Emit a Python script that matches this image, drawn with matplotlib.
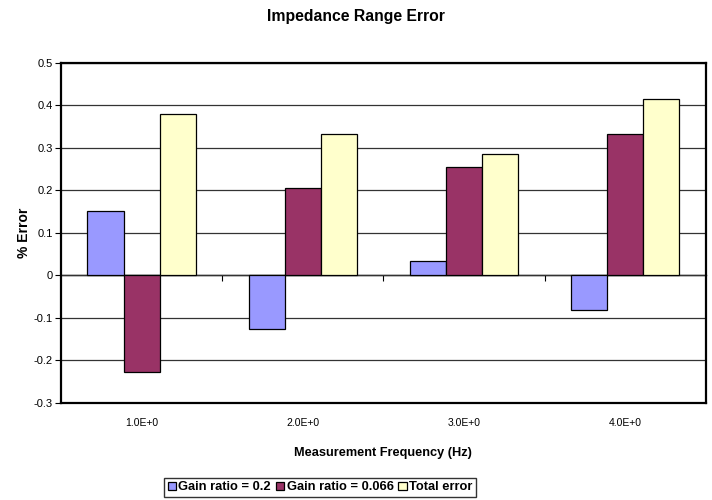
import matplotlib
matplotlib.use("Agg")
import matplotlib.pyplot as plt
import numpy as np

plt.rcParams['font.family'] = ['Liberation Sans', 'DejaVu Sans']

categories = ["1.0E+0", "2.0E+0", "3.0E+0", "4.0E+0"]
series_names = ["Gain ratio = 0.2", "Gain ratio = 0.066", "Total error"]
gain_02 = [0.152, -0.127, 0.033, -0.082]
gain_0066 = [-0.228, 0.206, 0.254, 0.332]
total_error = [0.380, 0.333, 0.285, 0.414]
colors = ["#9999FF", "#993366", "#FFFFCC"]
yticks = [-0.3, -0.2, -0.1, 0, 0.1, 0.2, 0.3, 0.4, 0.5]
ytick_labels = ["-0.3", "-0.2", "-0.1", "0", "0.1", "0.2", "0.3", "0.4", "0.5"]

fig = plt.figure(figsize=(7.12, 5.0), dpi=100)
ax = fig.add_axes([61/712, 1-402.7/500, (705.7-61)/712, (402.7-62.7)/500])

x = np.arange(len(categories))
w = 0.224
for i, (vals, c, name) in enumerate(zip([gain_02, gain_0066, total_error], colors, series_names)):
    ax.bar(x + (i - 1) * w, vals, width=w, color=c, edgecolor="black", linewidth=0.9, label=name, zorder=3)

ax.set_xlim(-0.5, len(categories) - 0.5)
ax.set_ylim(-0.3, 0.5)
ax.set_yticks(yticks)
ax.set_yticklabels(ytick_labels, fontsize=8)
ax.tick_params(axis='y', length=4, width=0.8, pad=2, direction='out')
ax.grid(axis='y', color='#333333', linewidth=0.9, zorder=0)
ax.set_axisbelow(True)

ax.set_xticks(x)
ax.set_xticklabels(categories, fontsize=7.5)
ax.tick_params(axis='x', length=0, pad=11)

for s in ax.spines.values():
    s.set_linewidth(1.6)
    s.set_color('black')

# zero line with category-boundary ticks
sec = ax.secondary_xaxis(0.375)
sec.set_xticks(np.arange(len(categories) - 1) + 0.5)
sec.set_xticklabels([])
sec.tick_params(axis='x', length=4, width=0.8, direction='out')
sec.spines['bottom'].set_linewidth(1.0)

ax.set_ylabel("% Error", fontsize=10, fontweight='bold', labelpad=2)
ax.set_xlabel("Measurement Frequency (Hz)", fontsize=9.2, fontweight='bold', labelpad=14)
fig.text(0.5, 1 - 17/500, "Impedance Range Error", ha='center', va='center',
         fontsize=11.3, fontweight='bold')

leg = fig.legend(loc='center', bbox_to_anchor=(320/712, 1 - 487.5/500), ncol=3,
                 prop={'weight': 'bold', 'size': 9.3},
                 frameon=True, fancybox=False, edgecolor='black',
                 handlelength=0.65, handleheight=0.65, handletextpad=0.2,
                 columnspacing=0.35, borderpad=0.3, borderaxespad=0)
leg.get_frame().set_linewidth(1.0)

fig.savefig("out.png", dpi=100)
